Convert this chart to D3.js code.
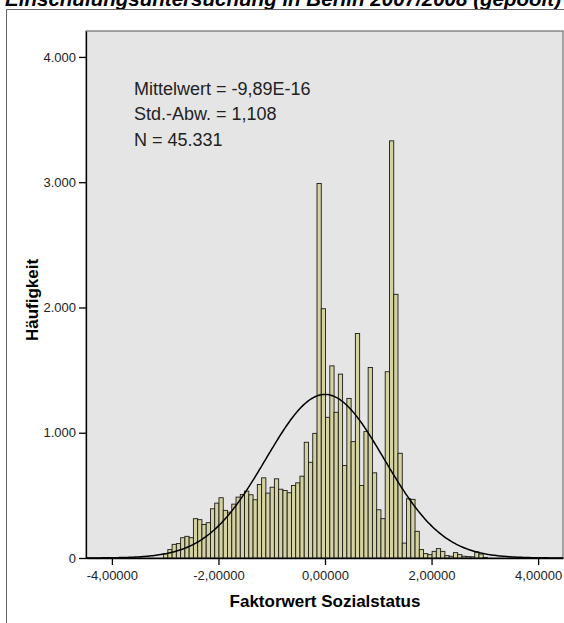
<!DOCTYPE html>
<html>
<head>
<meta charset="utf-8">
<script src="https://cdn.jsdelivr.net/npm/d3@7"></script>
<style>
  body { margin: 0; background: #fff; }
  svg { display: block; font-family: Arial, "Liberation Sans", sans-serif; }
</style>
</head>
<body>
<div id="chart-area"></div>
<script>
// histogram data
var binStart = -3.03;
var binWidth = 0.08;
var counts = [35, 67, 109, 115, 162, 173, 162, 314, 306, 268, 282, 393, 438, 481, 380, 366,
    430, 486, 507, 534, 505, 465, 587, 640, 518, 565, 632, 549, 539, 521, 579, 600, 653, 924,
    764, 995, 2990, 1990, 1123, 1534, 1163, 1468, 738, 1274, 929, 1792, 579, 1009, 1521, 680,
    385, 314, 1487, 3330, 2105, 836, 119, 473, 468, 213, 67, 35, 27, 53, 75, 53, 19, 14, 43,
    27, 14, 11, 10, 48, 32, 5];
var xTicks = [-4, -2, 0, 2, 4];
var yTicks = [0, 1000, 2000, 3000, 4000];
var statMean = -9.89e-16;
var statSd = 1.108;
var statN = 45331;
var statLines = ["Mittelwert = -9,89E-16", "Std.-Abw. = 1,108", "N = 45.331"];

var W = 564, H = 623;
var margin = { top: 31, right: 1, bottom: 65, left: 86 },
    width = W - margin.left - margin.right,
    height = H - margin.top - margin.bottom;

var de = d3.formatLocale({ decimal: ",", thousands: ".", grouping: [3], currency: ["", " €"], minus: "-" });

var svg = d3.select("#chart-area").append("svg")
    .attr("width", W)
    .attr("height", H);

// title (clipped at the top like the original)
svg.append("text")
    .attr("x", 5)
    .attr("y", 6)
    .attr("font-size", 20)
    .attr("font-weight", "bold")
    .attr("font-style", "italic")
    .attr("textLength", 556)
    .attr("lengthAdjust", "spacingAndGlyphs")
    .text("Einschulungsuntersuchung in Berlin 2007/2008 (gepoolt)");

// outer frame
svg.append("path")
    .attr("d", "M6.5," + H + "V9.5H" + W)
    .attr("fill", "none")
    .attr("stroke", "#666");

var g = svg.append("g")
    .attr("transform", "translate(" + margin.left + ", " + margin.top + ")");

var x = d3.scaleLinear().domain([-4.486, 4.467]).range([0, width]);
var y = d3.scaleLinear().domain([0, 4207]).range([height, 0]);

g.append("rect")
    .attr("width", width)
    .attr("height", height)
    .attr("fill", "#e5e5e5")
    .attr("stroke", "#555")
    .attr("stroke-width", 1);

var bins = counts.map((c, i) => ({ x0: binStart + i * binWidth, x1: binStart + (i + 1) * binWidth, n: c }));

g.selectAll("rect.bar")
    .data(bins)
  .enter().append("rect")
    .attr("class", "bar")
    .attr("x", (d) => x(d.x0))
    .attr("y", (d) => y(d.n))
    .attr("width", (d) => x(d.x1) - x(d.x0))
    .attr("height", (d) => height - y(d.n))
    .attr("fill", "#d4d2a0")
    .attr("stroke", "#1a1a1a")
    .attr("stroke-width", 0.9);

// normal curve from the stats
var dom = x.domain();
var pts = d3.range(0, 301).map((i) => dom[0] + (dom[1] - dom[0]) * i / 300);
var dens = (v) => statN * binWidth / (statSd * Math.sqrt(2 * Math.PI)) *
    Math.exp(-0.5 * Math.pow((v - statMean) / statSd, 2));

g.append("path")
    .datum(pts)
    .attr("fill", "none")
    .attr("stroke", "#000")
    .attr("stroke-width", 1.5)
    .attr("d", d3.line().x((v) => x(v)).y((v) => y(dens(v))));

// axes
var xAxis = g.append("g")
    .attr("transform", "translate(0, " + height + ")")
    .call(d3.axisBottom(x).tickValues(xTicks).tickFormat(de.format(".5f")).tickSizeInner(7).tickSizeOuter(0));
var yAxis = g.append("g")
    .call(d3.axisLeft(y).tickValues(yTicks).tickFormat(de.format(",d")).tickSizeInner(7).tickSizeOuter(0));

[xAxis, yAxis].forEach((a) => {
    a.select(".domain").attr("stroke", "#000").attr("stroke-width", 1.3);
    a.selectAll(".tick line").attr("stroke", "#000").attr("stroke-width", 1.3);
    a.selectAll(".tick text").attr("font-size", 13).attr("fill", "#222")
        .attr("font-family", "Arial, 'Liberation Sans', sans-serif");
});
xAxis.selectAll(".tick text").attr("dy", "0.95em");

// stats box
g.selectAll("text.stat")
    .data(statLines)
  .enter().append("text")
    .attr("class", "stat")
    .attr("x", 48)
    .attr("y", (d, i) => 63.5 + i * 25.7)
    .attr("font-size", 18)
    .attr("fill", "#222")
    .text((d) => d);

// axis labels
svg.append("text")
    .attr("x", margin.left + x(0))
    .attr("y", 607)
    .attr("text-anchor", "middle")
    .attr("font-size", 17)
    .attr("font-weight", "bold")
    .text("Faktorwert Sozialstatus");

svg.append("text")
    .attr("transform", "translate(38, 300) rotate(-90)")
    .attr("text-anchor", "middle")
    .attr("font-size", 17)
    .attr("font-weight", "bold")
    .text("Häufigkeit");
</script>
</body>
</html>
